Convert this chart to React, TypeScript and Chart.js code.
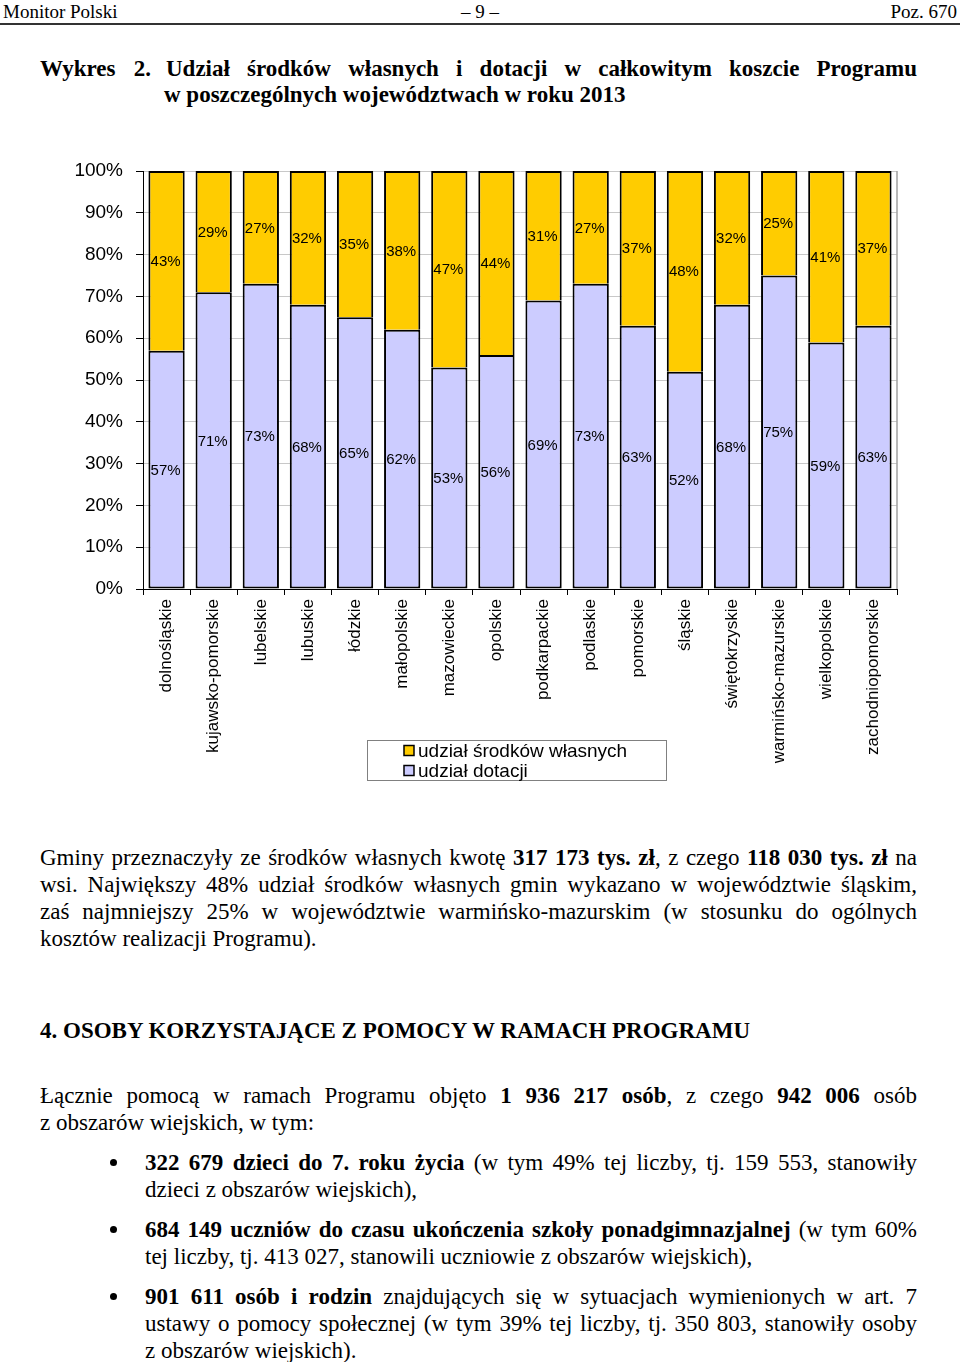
import React, { useEffect, useRef } from "react";
import { Chart, registerables } from "chart.js";

Chart.register(...registerables);

const categories = [
  "dolnośląskie",
  "kujawsko-pomorskie",
  "lubelskie",
  "lubuskie",
  "łódzkie",
  "małopolskie",
  "mazowieckie",
  "opolskie",
  "podkarpackie",
  "podlaskie",
  "pomorskie",
  "śląskie",
  "świętokrzyskie",
  "warmińsko-mazurskie",
  "wielkopolskie",
  "zachodniopomorskie",
];
const udzialDotacji = [57, 71, 73, 68, 65, 62, 53, 56, 69, 73, 63, 52, 68, 75, 59, 63];
const udzialSrodkowWlasnych = [43, 29, 27, 32, 35, 38, 47, 44, 31, 27, 37, 48, 32, 25, 41, 37];
const yTickValues = [0, 10, 20, 30, 40, 50, 60, 70, 80, 90, 100];
const seriesLabels = ["udział dotacji", "udział środków własnych"];
const seriesColors = ["#CCCCFF", "#FFCC00"];

const SANS = '"Liberation Sans", Arial, sans-serif';
const SERIF = '"Liberation Serif", "Times New Roman", serif';

const dataLabelsPlugin = {
  id: "dataLabelsPlugin",
  afterDatasetsDraw(chart: any) {
    const ctx = chart.ctx;
    ctx.save();
    ctx.font = `15px ${SANS}`;
    ctx.fillStyle = "#000";
    ctx.textAlign = "center";
    ctx.textBaseline = "middle";
    chart.data.datasets.forEach((ds: any, di: number) => {
      const meta = chart.getDatasetMeta(di);
      meta.data.forEach((el: any, i: number) => {
        const p = el.getProps(["x", "y", "base"], true);
        ctx.fillText(`${ds.data[i]}%`, p.x - 1, (p.y + p.base) / 2 + 1);
      });
    });
    ctx.restore();
  },
};

const framePlugin = {
  id: "framePlugin",
  afterDraw(chart: any) {
    const { ctx, chartArea: a } = chart;
    ctx.save();
    ctx.strokeStyle = "#a0a0a0";
    ctx.lineWidth = 1.5;
    ctx.beginPath();
    ctx.moveTo(a.right, a.top);
    ctx.lineTo(a.right, a.bottom);
    ctx.stroke();
    ctx.restore();
  },
};

const legendPlugin = {
  id: "boxLegendPlugin",
  afterDraw(chart: any) {
    const { ctx, chartArea: a } = chart;
    const lx = a.left + 224;
    const ly = a.bottom + 151;
    ctx.save();
    ctx.strokeStyle = "#808080";
    ctx.lineWidth = 1;
    ctx.strokeRect(lx + 0.5, ly + 0.5, 299, 40);
    const items = chart.data.datasets
      .map((ds: any) => ({ label: ds.label, color: ds.backgroundColor }))
      .reverse();
    ctx.font = `19px ${SANS}`;
    ctx.textBaseline = "middle";
    ctx.textAlign = "left";
    items.forEach((it: any, i: number) => {
      const cy = ly + 10.5 + i * 20;
      ctx.fillStyle = it.color;
      ctx.fillRect(lx + 37, cy - 5, 10, 10);
      ctx.strokeStyle = "#000";
      ctx.lineWidth = 1.5;
      ctx.strokeRect(lx + 37, cy - 5, 10, 10);
      ctx.fillStyle = "#000";
      ctx.fillText(it.label, lx + 51, cy + 1);
    });
    ctx.restore();
  },
};

function BarChart() {
  const ref = useRef<HTMLCanvasElement | null>(null);
  useEffect(() => {
    if (!ref.current) return;
    const chart = new Chart(ref.current, {
      type: "bar",
      data: {
        labels: categories,
        datasets: [
          {
            label: seriesLabels[0],
            data: udzialDotacji,
            backgroundColor: seriesColors[0],
            borderColor: "#000",
            borderWidth: { top: 2, left: 2, right: 2, bottom: 2 },
            borderSkipped: false,
          },
          {
            label: seriesLabels[1],
            data: udzialSrodkowWlasnych,
            backgroundColor: seriesColors[1],
            borderColor: "#000",
            borderWidth: { top: 2, left: 2, right: 2, bottom: 0 },
            borderSkipped: false,
          },
        ],
      },
      options: {
        responsive: false,
        animation: false,
        layout: { padding: { left: 0, right: 63, top: 31, bottom: 0 } },
        datasets: { bar: { categoryPercentage: 1, barPercentage: 0.77 } },
        plugins: {
          legend: { display: false },
          tooltip: { enabled: false },
          title: { display: false },
        },
        scales: {
          x: {
            stacked: true,
            offset: true,
            grid: {
              display: true,
              drawOnChartArea: false,
              drawTicks: true,
              tickLength: 6,
              tickColor: "#000",
              offset: true,
            },
            border: { display: true, color: "#000", width: 1 },
            ticks: {
              autoSkip: false,
              minRotation: 90,
              maxRotation: 90,
              padding: 4,
              color: "#000",
              font: { family: SANS, size: 17 },
            },
            afterFit(scale: any) {
              scale.height = 211;
            },
          },
          y: {
            stacked: true,
            min: 0,
            max: 100,
            afterBuildTicks(scale: any) {
              scale.ticks = yTickValues.map((v) => ({ value: v }));
            },
            afterFit(scale: any) {
              scale.width = 143;
            },
            grid: {
              color: (c: any) => (c.tick && c.tick.value === 0 ? "#000" : "#c8c8c8"),
              lineWidth: 1,
              drawTicks: true,
              tickLength: 7,
              tickColor: "#000",
            },
            border: { display: true, color: "#000", width: 1 },
            ticks: {
              padding: 13,
              color: "#000",
              font: { family: SANS, size: 19 },
              callback: (v: any) => `${v}%`,
            },
          },
        },
      },
      plugins: [dataLabelsPlugin, framePlugin, legendPlugin],
    } as any);
    return () => chart.destroy();
  }, []);
  return (
    <canvas
      ref={ref}
      width={960}
      height={660}
      style={{ position: "absolute", left: 0, top: 140, width: 960, height: 660 }}
    />
  );
}

type LineProps = {
  top: number;
  left: number;
  width?: number;
  justify?: boolean;
  bold?: boolean;
  size?: number;
  align?: "left" | "center" | "right";
  children: React.ReactNode;
};

function Line({ top, left, width = 877, justify, bold, size = 23, align = "left", children }: LineProps) {
  return (
    <div
      style={{
        position: "absolute",
        top: top - 13.5,
        left,
        width,
        height: 27,
        lineHeight: "27px",
        fontSize: size,
        fontFamily: SERIF,
        fontWeight: bold ? "bold" : "normal",
        color: "#000",
        textAlign: justify ? "justify" : align,
        textAlignLast: justify ? "justify" : align,
        overflow: "visible",
      } as any}
    >
      {children}
    </div>
  );
}

const B = ({ children }: { children: React.ReactNode }) => <b>{children}</b>;

function Bullet({ top }: { top: number }) {
  return (
    <div
      style={{
        position: "absolute",
        left: 110,
        top: top - 3,
        width: 7,
        height: 7,
        borderRadius: "50%",
        background: "#000",
      }}
    />
  );
}

export default function App() {
  return (
    <div
      style={{
        position: "absolute",
        left: 0,
        top: 0,
        width: 960,
        height: 1362,
        background: "#fff",
        overflow: "hidden",
      }}
    >
      {/* header */}
      <Line top={11} left={3} width={300} size={19}>Monitor Polski</Line>
      <Line top={11} left={380} width={200} size={19} align="center">– 9 –</Line>
      <Line top={11} left={657} width={300} size={19} align="right">Poz. 670</Line>
      <div style={{ position: "absolute", left: 0, top: 23, width: 960, height: 2, background: "#333" }} />

      {/* title */}
      <Line top={68} left={40} width={111} bold justify>Wykres 2.</Line>
      <Line top={68} left={166} width={751} bold justify>
        Udział środków własnych i dotacji w całkowitym koszcie Programu
      </Line>
      <Line top={94} left={164} width={760} bold>
        w poszczególnych województwach w roku 2013
      </Line>

      <BarChart />

      {/* paragraph 1 */}
      <Line top={857} left={40} justify>
        Gminy przeznaczyły ze środków własnych kwotę <B>317 173 tys. zł</B>, z czego <B>118 030 tys. zł</B> na
      </Line>
      <Line top={884} left={40} justify>
        wsi. Największy 48% udział środków własnych gmin wykazano w województwie śląskim,
      </Line>
      <Line top={911} left={40} justify>
        zaś najmniejszy 25% w województwie warmińsko-mazurskim (w stosunku do ogólnych
      </Line>
      <Line top={938} left={40}>kosztów realizacji Programu).</Line>

      {/* heading */}
      <Line top={1030} left={40} bold>4. OSOBY KORZYSTAJĄCE Z POMOCY W RAMACH PROGRAMU</Line>

      {/* paragraph 2 */}
      <Line top={1095} left={40} justify>
        Łącznie pomocą w ramach Programu objęto <B>1 936 217 osób</B>, z czego <B>942 006</B> osób
      </Line>
      <Line top={1122} left={40}>z obszarów wiejskich, w tym:</Line>

      {/* bullets */}
      <Bullet top={1162} />
      <Line top={1162} left={145} width={772} justify>
        <B>322 679 dzieci do 7. roku życia</B> (w tym 49% tej liczby, tj. 159 553, stanowiły
      </Line>
      <Line top={1189} left={145} width={772}>dzieci z obszarów wiejskich),</Line>

      <Bullet top={1229} />
      <Line top={1229} left={145} width={772} justify>
        <B>684 149 uczniów do czasu ukończenia szkoły ponadgimnazjalnej</B> (w tym 60%
      </Line>
      <Line top={1256} left={145} width={772}>
        tej liczby, tj. 413 027, stanowili uczniowie z obszarów wiejskich),
      </Line>

      <Bullet top={1296} />
      <Line top={1296} left={145} width={772} justify>
        <B>901 611 osób i rodzin</B> znajdujących się w sytuacjach wymienionych w art. 7
      </Line>
      <Line top={1323} left={145} width={772} justify>
        ustawy o pomocy społecznej (w tym 39% tej  liczby, tj. 350 803, stanowiły osoby
      </Line>
      <Line top={1350} left={145} width={772}>z obszarów wiejskich).</Line>
    </div>
  );
}
